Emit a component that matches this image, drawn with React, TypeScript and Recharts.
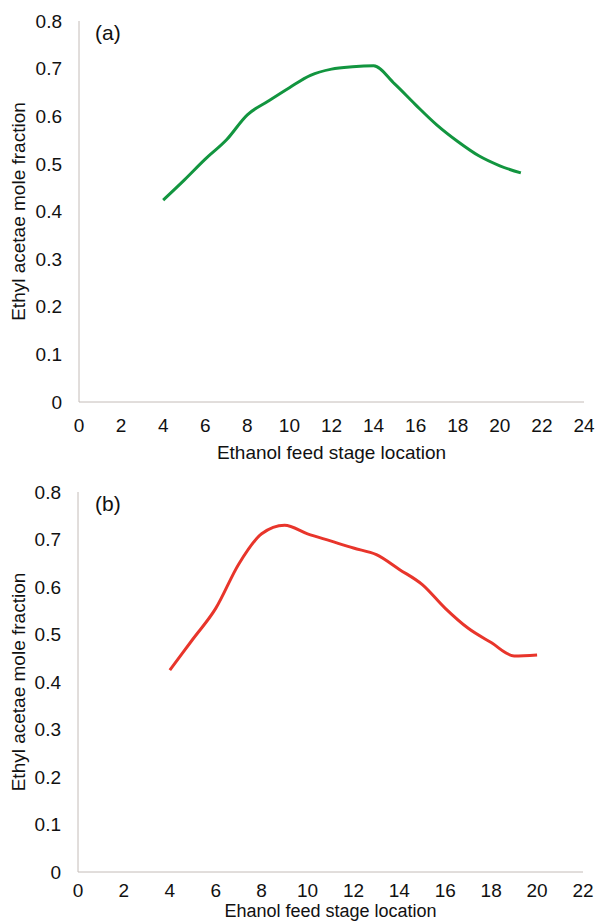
import { LineChart, Line, XAxis, YAxis, Label } from 'recharts'

const stagesA = [4, 5, 6, 7, 8, 9, 10, 11, 12, 13, 14, 15, 16, 17, 18, 19, 20, 21]
const moleFracA = [0.424, 0.466, 0.51, 0.55, 0.603, 0.632, 0.66, 0.686, 0.699, 0.704, 0.706, 0.668, 0.624, 0.582, 0.547, 0.517, 0.496, 0.481]

const stagesB = [4, 5, 6, 7, 8, 9, 10, 11, 12, 13, 14, 15, 16, 17, 18, 19, 20]
const moleFracB = [0.425, 0.49, 0.555, 0.648, 0.712, 0.73, 0.712, 0.697, 0.682, 0.668, 0.637, 0.605, 0.555, 0.513, 0.483, 0.455, 0.457]

const yTicks = [0, 0.1, 0.2, 0.3, 0.4, 0.5, 0.6, 0.7, 0.8]
const xTicksA = [0, 2, 4, 6, 8, 10, 12, 14, 16, 18, 20, 22, 24]
const xTicksB = [0, 2, 4, 6, 8, 10, 12, 14, 16, 18, 20, 22]

const dataA = stagesA.map((s, i) => ({ stage: s, frac: moleFracA[i] }))
const dataB = stagesB.map((s, i) => ({ stage: s, frac: moleFracB[i] }))

const font = '"Liberation Sans", Arial, sans-serif'
const axisColor = '#c4bcb8'
const tick = { fontSize: 19, fill: '#111', fontFamily: font }

function Panel({ data, xTicks, xMax, color, xTitle, titleDy, titleSize, xTickMargin, height, top, yAxisW, right, panel }: {
  data: { stage: number; frac: number }[]; xTicks: number[]; xMax: number; color: string
  xTitle: string; titleDy: number; titleSize: number; xTickMargin: number
  height: number; top: number; yAxisW: number; right: number; panel: string
}) {
  return (
    <div style={{ position: 'relative', width: 597, height }}>
      <LineChart width={597} height={height} data={data} margin={{ top, right, bottom: 0, left: 0 }}>
        <XAxis
          dataKey="stage" type="number" domain={[0, xMax]} ticks={xTicks} interval={0}
          stroke={axisColor} tickLine={false} tick={tick} tickMargin={xTickMargin} height={height - 402}
        >
          <Label value={xTitle} position="center" dy={titleDy}
            style={{ fontSize: titleSize, fill: '#111', fontFamily: font }} />
        </XAxis>
        <YAxis
          type="number" domain={[0, 0.8]} ticks={yTicks} interval={0}
          stroke={axisColor} tickLine={false} tick={tick} tickMargin={11} width={yAxisW}
        >
          <Label value="Ethyl acetae mole fraction" angle={-90} position="center" dx={-21}
            style={{ fontSize: 19, fill: '#111', fontFamily: font, textAnchor: 'middle' }} />
        </YAxis>
        <Line type="monotone" dataKey="frac" stroke={color} strokeWidth={3} dot={false} isAnimationActive={false} />
      </LineChart>
      <div style={{ position: 'absolute', left: 95, top: top + 1, fontSize: 21, lineHeight: '22px', fontFamily: font, color: '#111' }}>
        {panel}
      </div>
    </div>
  )
}

export default function App() {
  return (
    <div style={{ position: 'absolute', left: 0, top: 0, width: 597, height: 922, background: '#fff', overflow: 'hidden' }}>
      <Panel data={dataA} xTicks={xTicksA} xMax={24} color="#12953f" xTitle="Ethanol feed stage location"
        titleDy={16} titleSize={19} xTickMargin={11}
        height={470} top={21} yAxisW={79} right={13} panel="(a)" />
      <Panel data={dataB} xTicks={xTicksB} xMax={22} color="#e8352b" xTitle="Ehanol feed stage location"
        titleDy={14} titleSize={18} xTickMargin={6}
        height={452} top={22} yAxisW={78} right={14} panel="(b)" />
    </div>
  )
}
